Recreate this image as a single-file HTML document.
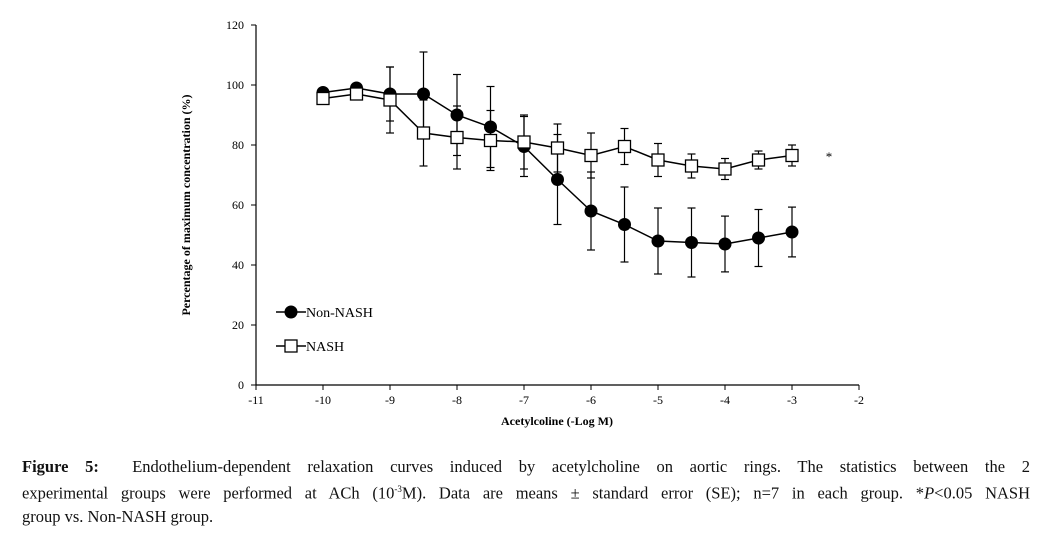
<!DOCTYPE html>
<html><head><meta charset="utf-8"><style>
body{margin:0;background:#fff;width:1051px;height:542px;overflow:hidden;font-family:"Liberation Serif",serif}
#cap{position:absolute;left:22px;top:455px;width:1008px;font-size:16.5px;line-height:23px;color:#111}
#cap .j{display:block;text-align:justify;text-align-last:justify;white-space:nowrap}
#cap .l{display:block;white-space:nowrap}
</style></head><body>
<svg id="chart" width="1051" height="450" style="position:absolute;left:0;top:0" font-family="Liberation Serif, serif"></svg>
<div id="cap"><span class="j"><b>Figure 5:</b>&nbsp; Endothelium-dependent relaxation curves induced by acetylcholine on aortic rings. The statistics between the 2</span><span class="j">experimental groups were performed at ACh (10<sup style="font-size:9px">-3</sup>M). Data are means ± standard error (SE); n=7 in each group. *<i>P</i>&lt;0.05 NASH</span><span class="l">group vs. Non-NASH group.</span></div>
<script>
const doses=[-10,-9.5,-9,-8.5,-8,-7.5,-7,-6.5,-6,-5.5,-5,-4.5,-4,-3.5,-3];
const nonNash=[97.5,99,97,97,90,86,79.5,68.5,58,53.5,48,47.5,47,49,51];
const nonNashErr=[1,1.5,9,14,13.5,13.5,10,15,13,12.5,11,11.5,9.3,9.5,8.3];
const nash=[95.5,97,95,84,82.5,81.5,81,79,76.5,79.5,75,73,72,75,76.5];
const nashErr=[1,1.5,11,11,10.5,10,9,8,7.5,6,5.5,4,3.5,3,3.5];
const xTicks=[-11,-10,-9,-8,-7,-6,-5,-4,-3,-2];
const yTicks=[0,20,40,60,80,100,120];
const svg=document.getElementById('chart');const NS='http://www.w3.org/2000/svg';
const X=v=>256+(v+11)*(603/9), Y=v=>385-v*3;
function mk(t,a,p){const e=document.createElementNS(NS,t);for(const k in a)e.setAttribute(k,a[k]);(p||svg).appendChild(e);return e;}
const ax=mk('g',{});


mk('line',{x1:256,y1:25,x2:256,y2:385,stroke:'#000','stroke-width':1.2},ax);
mk('line',{x1:256,y1:385,x2:859,y2:385,stroke:'#000','stroke-width':1.2},ax);
xTicks.forEach(t=>{mk('line',{x1:X(t),y1:385,x2:X(t),y2:390,stroke:'#000'},ax);const e=mk('text',{x:X(t),y:404,'text-anchor':'middle','font-size':12},ax);e.textContent=t;});
yTicks.forEach(t=>{mk('line',{x1:251,y1:Y(t),x2:256,y2:Y(t),stroke:'#000'},ax);const e=mk('text',{x:244,y:Y(t)+4,'text-anchor':'end','font-size':12},ax);e.textContent=t;});
let t=mk('text',{x:557,y:425,'text-anchor':'middle','font-size':12,'font-weight':'bold'});t.textContent='Acetylcoline (-Log M)';

t=mk('text',{x:0,y:0,'text-anchor':'middle','font-size':12,'font-weight':'bold',transform:'translate(190,205) rotate(-90)'});t.textContent='Percentage of maximum concentration (%)';

function series(vals,errs,name,sq){
 const g=mk('g',{});
 vals.forEach((v,i)=>{const x=X(doses[i]);mk('line',{x1:x,y1:Y(v+errs[i]),x2:x,y2:Y(v-errs[i]),stroke:'#000','stroke-width':1.2},g);
  [v+errs[i],v-errs[i]].forEach(e=>mk('line',{x1:x-4,y1:Y(e),x2:x+4,y2:Y(e),stroke:'#000','stroke-width':1.2},g));});
 mk('polyline',{points:vals.map((v,i)=>X(doses[i])+','+Y(v)).join(' '),fill:'none',stroke:'#000','stroke-width':1.5},g);
 vals.forEach((v,i)=>{const x=X(doses[i]),y=Y(v);const m=sq?mk('rect',{x:x-6,y:y-6,width:12,height:12,fill:'#fff',stroke:'#000','stroke-width':1.3},g):mk('circle',{cx:x,cy:y,r:6.5,fill:'#000'},g);
  });
}
series(nonNash,nonNashErr,'non-nash-series',false);
series(nash,nashErr,'nash-series',true);
t=mk('text',{x:829,y:161,'text-anchor':'middle','font-size':13});t.textContent='*';

const lg=mk('g',{});
mk('line',{x1:276,y1:312,x2:306,y2:312,stroke:'#000','stroke-width':1.5},lg);mk('circle',{cx:291,cy:312,r:6.5,fill:'#000'},lg);
t=mk('text',{x:306,y:317,'font-size':14},lg);t.textContent='Non-NASH';
mk('line',{x1:276,y1:346,x2:306,y2:346,stroke:'#000','stroke-width':1.5},lg);mk('rect',{x:285,y:340,width:12,height:12,fill:'#fff',stroke:'#000','stroke-width':1.3},lg);
t=mk('text',{x:306,y:351,'font-size':14},lg);t.textContent='NASH';
</script>
</body></html>
